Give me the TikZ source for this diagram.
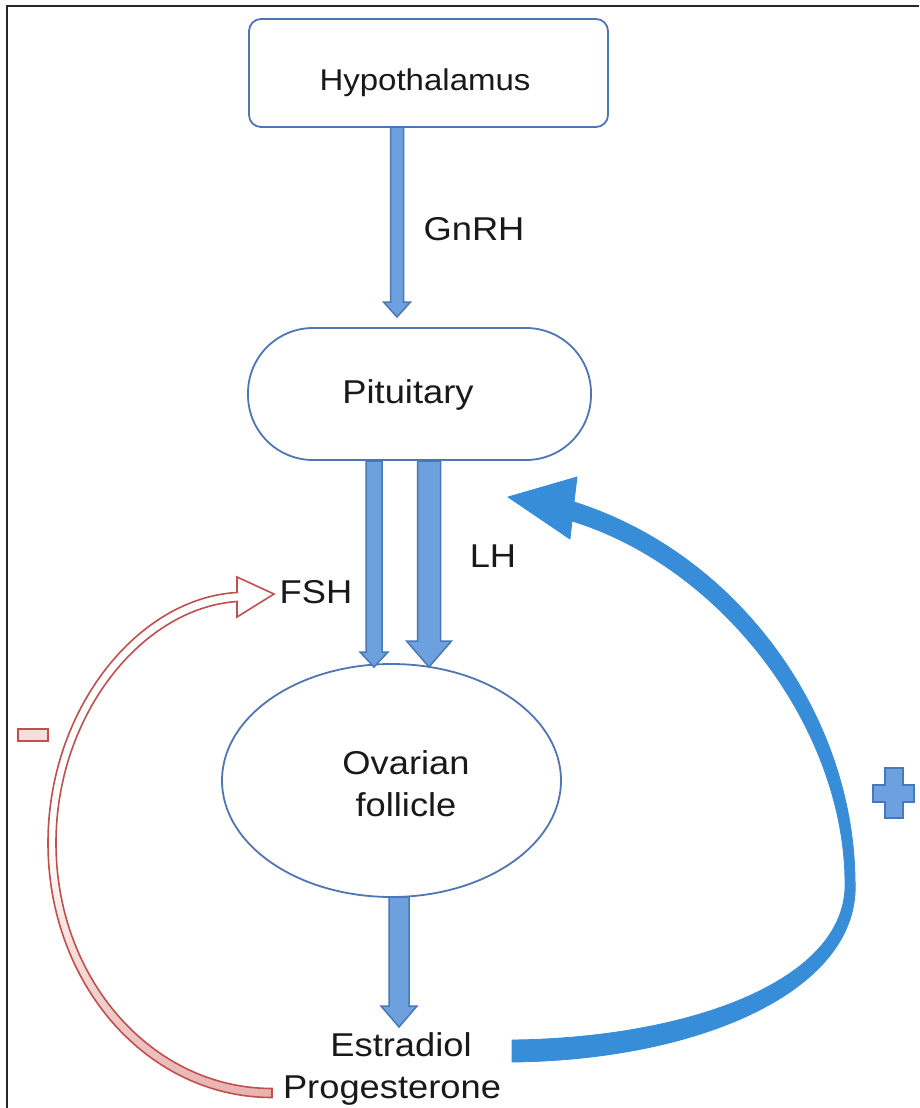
\documentclass[tikz,border=0pt]{standalone}
\usepackage{fontspec}
\setmainfont[FakeStretch=1.1]{Liberation Sans}
\usetikzlibrary{shapes.geometric,calc}
\definecolor{boxc}{RGB}{79,118,178}
\definecolor{lbfill}{RGB}{108,160,222}
\definecolor{lbdraw}{RGB}{72,120,182}
\definecolor{bigblue}{RGB}{56,141,216}
\definecolor{redc}{RGB}{192,80,77}
\definecolor{pinkc}{RGB}{232,178,176}
\definecolor{pinkl}{RGB}{246,222,221}
\definecolor{txtc}{RGB}{25,25,25}
\newcommand{\blockarrow}[6]{%
  \filldraw[blockarr] (#1-#4,#2) -- (#1-#4,#3-#6) -- (#1-#5,#3-#6) -- (#1,#3)
    -- (#1+#5,#3-#6) -- (#1+#4,#3-#6) -- (#1+#4,#2) -- cycle;}
\begin{document}
\begin{tikzpicture}[x=1pt,y=-1pt,
  shapebox/.style={draw=boxc, line width=1.8pt, fill=white, inner sep=0pt, outer sep=0pt},
  lbl/.style={anchor=base, text=txtc, inner sep=0pt, font=\fontsize{33}{40}\selectfont},
  blockarr/.style={fill=lbfill, draw=lbdraw, line width=1.5pt, line join=miter},
  bigarr/.style={fill=bigblue, draw=bigblue, line width=0.8pt, line join=round},
  negarr/.style={draw=redc, line width=1.6pt, line join=miter, top color=white, bottom color=pinkc, middle color=white},
]
\fill[white] (0,0) rectangle (919,1108);
\useasboundingbox (0,0) rectangle (919,1108);
\draw[line width=2.5pt, black!85] (7,1108) -- (7,6) -- (919,6);

% shapes
\node[shapebox, rectangle, rounded corners=12pt, minimum width=359pt, minimum height=108pt] (hyp) at (428.5,73) {};
\node[shapebox, rectangle, rounded corners=65pt, minimum width=343pt, minimum height=132pt] (pit) at (419.5,394) {};
\node[shapebox, ellipse, minimum width=339pt, minimum height=233pt] (ovf) at (391.5,780.5) {};

% block arrows
\blockarrow{397}{127}{317}{6.5}{13.5}{15}
\blockarrow{374}{461}{667}{8}{14}{15}
\blockarrow{429}{461}{667}{11.5}{22.5}{26}
\blockarrow{399}{897}{1027}{10}{18}{21}

% big positive feedback arrow
\path[bigarr] (512,1062) .. controls (700,1060) and (862,990) .. (855,880)
  .. controls (853,712) and (736,553) .. (574,502)
  -- (577,477) -- (508,497) -- (570,539) -- (572,521)
  .. controls (724,568) and (843,728) .. (845,880)
  .. controls (850,980) and (690,1038) .. (512,1040) -- cycle;

% negative feedback arrow
\path[negarr] (272,1097.5) .. controls (147,1097.5) and (48,984) .. (48,843)
  .. controls (48,709) and (138,598) .. (237,592.5)
  -- (237,577) -- (274,594) -- (237,617) -- (237,601.5)
  .. controls (142,608) and (56,715) .. (56,843)
  .. controls (56,980) and (153,1088.5) .. (272,1088.5) -- cycle;

% signs
\filldraw[draw=redc, fill=pinkl, line width=1.6pt] (18,729) rectangle (48,741);
\filldraw[fill=lbfill, draw=lbdraw, line width=1.2pt]
  (885,768) -- (903,768) -- (903,785) -- (914,785) -- (914,802) -- (903,802)
  -- (903,818) -- (885,818) -- (885,802) -- (873,802) -- (873,785) -- (885,785) -- cycle;

% labels
\node[lbl, font=\fontsize{30}{36}\selectfont] (thyp) at (425,90) {Hypothalamus};
\node[lbl] (tgnrh) at (474,240) {GnRH};
\node[lbl] (tpit) at (408,403) {Pituitary};
\node[lbl] (tfsh) at (316,603) {FSH};
\node[lbl] (tlh) at (493,567) {LH};
\node[lbl] (tov) at (406,774) {Ovarian};
\node[lbl] (tfol) at (406,816) {follicle};
\node[lbl] (test) at (401,1056) {Estradiol};
\node[lbl] (tprog) at (392,1098) {Progesterone};
\end{tikzpicture}
\end{document}
